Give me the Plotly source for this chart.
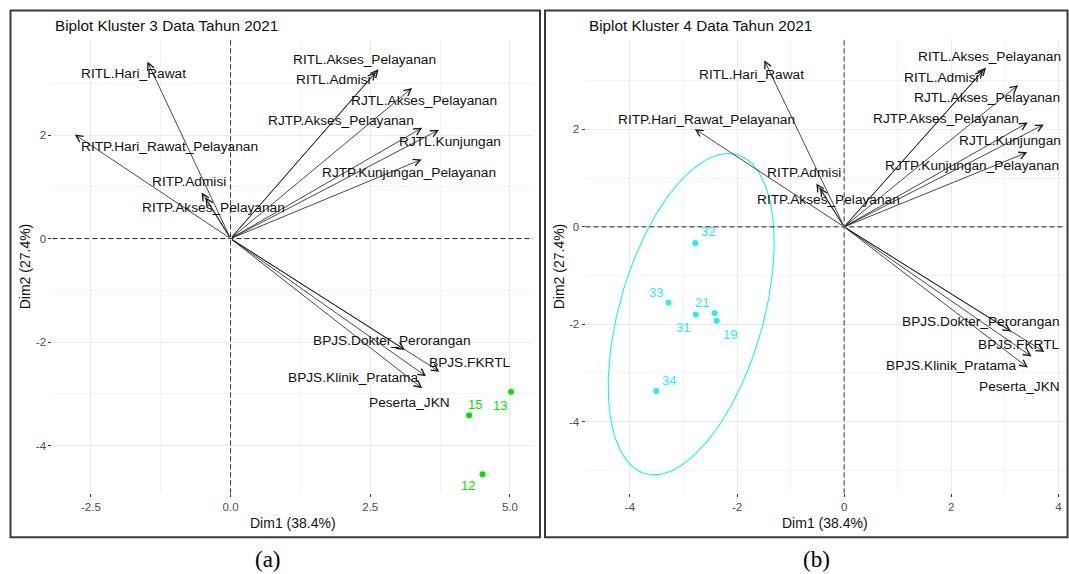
import numpy as np
import plotly.graph_objects as go

W, H = 1069, 574

# ---------------- data ----------------
VARIABLES = ["RITL.Hari_Rawat", "RITP.Hari_Rawat_Pelayanan", "RITP.Admisi",
             "RITP.Akses_Pelayanan", "RITL.Akses_Pelayanan", "RITL.Admisi",
             "RJTL.Akses_Pelayanan", "RJTP.Akses_Pelayanan", "RJTL.Kunjungan",
             "RJTP.Kunjungan_Pelayanan", "BPJS.Dokter_Perorangan", "BPJS.FKRTL",
             "BPJS.Klinik_Pratama", "Peserta_JKN"]
VAR_DIM1 = [-1.49, -2.79, -0.52, -0.45, 2.65, 2.60, 3.25, 3.43, 3.73, 3.42, 3.12, 3.74, 3.50, 3.43]
VAR_DIM2 = [3.42, 2.01, 0.89, 0.80, 3.27, 3.22, 2.91, 2.14, 2.10, 1.53, -2.15, -2.57, -2.66, -2.89]

K3_IDS = ["12", "13", "15"]
K3_DIM1 = [4.51, 5.02, 4.27]
K3_DIM2 = [-4.55, -2.96, -3.41]

K4_IDS = ["19", "21", "31", "32", "33", "34"]
K4_DIM1 = [-2.38, -2.42, -2.77, -2.78, -3.28, -3.51]
K4_DIM2 = [-1.93, -1.77, -1.80, -0.33, -1.56, -3.37]

TITLE_A = "Biplot Kluster 3 Data Tahun 2021"
TITLE_B = "Biplot Kluster 4 Data Tahun 2021"
XLABEL = "Dim1 (38.4%)"
YLABEL = "Dim2 (27.4%)"
XTICKS_A = [-2.5, 0.0, 2.5, 5.0]
XTICKTEXT_A = ["-2.5", "0.0", "2.5", "5.0"]
XTICKS_B = [-4, -2, 0, 2, 4]
XTICKTEXT_B = ["-4", "-2", "0", "2", "4"]
YTICKS = [-4, -2, 0, 2]
YTICKTEXT = ["-4", "-2", "0", "2"]
CAPTIONS = ["(a)", "(b)"]

# 95% normal-theory ellipse: sqrt(2 * qf(0.95, 2, n-1)) with n = 6
F_QUANTILE = 5.786135

# ---------------- style / layout (label offsets in px: dx right, dy down) ----------------
LBL_OFF_A = [(-13.6, 11.8), (95.2, 12.3), (-12.3, -10.6), (8.5, 10.3), (-13.9, -10.2),
             (-42.5, 7.1), (11.9, 12.1), (-81.3, -7.7), (11.5, 12), (-12.2, 13.1),
             (-12.7, -9.5), (30.7, -8.9), (-73.6, 0.9), (-12.7, 14)]
LBL_OFF_B = [(-13.3, 13.9), (11.8, -9.8), (-12.7, -10.7), (8.3, 11.3), (3, -10.8),
             (-41.6, 7.8), (-31, 12.7), (-81.8, -4.2), (-34.3, 15.6), (-54.8, 12.8),
             (-30.3, -9.7), (-25.5, -7.6), (-80.7, 9.5), (-8.1, 18.6)]
PT_OFF_A = [(-14.6, 11.5), (-11, 13.7), (5.6, -10.6)]
PT_OFF_B = [(12.8, 13.3), (-12.7, -10.2), (-12.5, 12.9), (12.6, -11.1), (-12.2, -10.4), (12.6, -10.8)]

GREEN = "#00E400"
CYAN = "#1FF0F0"
ARROW_COLOR = "#1a1a1a"
TEXT_COLOR = "#111111"
FONT = "Liberation Sans, Arial, sans-serif"

PLOT_TOP, PLOT_BOTTOM = 39.3, 493.3
A_LEFT, A_RIGHT = 52.4, 532.8
B_LEFT, B_RIGHT = 585.5, 1065.3


def px(x):
    return x / W


def py(y):
    return 1 - y / H


fig = go.Figure()
annotations = []
shapes = []

ydom = [py(PLOT_BOTTOM), py(PLOT_TOP)]

axis_common = dict(
    showline=False, zeroline=False, showgrid=True, gridcolor="#EBEBEB", gridwidth=1,
    ticks="outside", ticklen=3, tickwidth=1, tickcolor="#333333",
    tickfont=dict(family=FONT, size=11.5, color="#4D4D4D"),
)

fig.update_layout(
    xaxis=dict(domain=[px(A_LEFT), px(A_RIGHT)], anchor="y", range=[-3.19, 5.41],
               tickvals=XTICKS_A, ticktext=XTICKTEXT_A,
               minor=dict(tickvals=[-1.25, 1.25, 3.75], showgrid=True, gridcolor="#F3F3F3", gridwidth=0.6, ticks=""),
               **axis_common),
    yaxis=dict(domain=ydom, anchor="x", range=[-4.92, 3.85],
               tickvals=YTICKS, ticktext=YTICKTEXT,
               minor=dict(tickvals=[-3, -1, 1, 3], showgrid=True, gridcolor="#F3F3F3", gridwidth=0.6, ticks=""),
               **axis_common),
    xaxis2=dict(domain=[px(B_LEFT), px(B_RIGHT)], anchor="y2", range=[-4.83, 4.13],
                tickvals=XTICKS_B, ticktext=XTICKTEXT_B,
                minor=dict(tickvals=[-3, -1, 1, 3], showgrid=True, gridcolor="#F3F3F3", gridwidth=0.6, ticks=""),
                **axis_common),
    yaxis2=dict(domain=ydom, anchor="x2", range=[-5.47, 3.85],
                tickvals=YTICKS, ticktext=YTICKTEXT,
                minor=dict(tickvals=[-5, -3, -1, 1, 3], showgrid=True, gridcolor="#F3F3F3", gridwidth=0.6, ticks=""),
                **axis_common),
)

panels = [
    dict(xr="x", yr="y", title=TITLE_A, lbl_off=LBL_OFF_A, ids=K3_IDS, d1=K3_DIM1, d2=K3_DIM2,
         pt_off=PT_OFF_A, color=GREEN, left=A_LEFT, right=A_RIGHT, ytitle_x=25, cap_x=268,
         border=(10.5, 10.5, 540, 537.3), ellipse=False),
    dict(xr="x2", yr="y2", title=TITLE_B, lbl_off=LBL_OFF_B, ids=K4_IDS, d1=K4_DIM1, d2=K4_DIM2,
         pt_off=PT_OFF_B, color=CYAN, left=B_LEFT, right=B_RIGHT, ytitle_x=559, cap_x=816,
         border=(545, 10.5, 1067.5, 537.3), ellipse=True),
]

for i, p in enumerate(panels):
    xr, yr = p["xr"], p["yr"]
    xd = xr + " domain"
    yd = yr + " domain"

    # dashed zero reference lines
    shapes.append(dict(type="line", xref=xd, yref=yr, x0=0, x1=1, y0=0, y1=0,
                       line=dict(color="#222222", width=1, dash="5px,3px")))
    shapes.append(dict(type="line", xref=xr, yref=yd, x0=0, x1=0, y0=0, y1=1,
                       line=dict(color="#333333", width=1, dash="5px,3px")))

    # panel frame
    bx0, by0, bx1, by1 = p["border"]
    shapes.append(dict(type="rect", xref="paper", yref="paper", x0=px(bx0), x1=px(bx1),
                       y0=py(by1), y1=py(by0), line=dict(color="#3a3a3a", width=2)))

    # individuals (points)
    if p["ellipse"]:
        pts = np.column_stack([p["d1"], p["d2"]])
        center = pts.mean(axis=0)
        cov = np.cov(pts.T)
        chol = np.linalg.cholesky(cov)
        t = np.linspace(0, 2 * np.pi, 200)
        circ = np.vstack([np.cos(t), np.sin(t)])
        radius = np.sqrt(2 * F_QUANTILE)
        ell = center[:, None] + radius * chol @ circ
        fig.add_trace(go.Scatter(x=ell[0], y=ell[1], mode="lines", xaxis=xr, yaxis=yr,
                                 line=dict(color=CYAN, width=1.1), hoverinfo="skip", showlegend=False))
    fig.add_trace(go.Scatter(x=p["d1"], y=p["d2"], mode="markers", xaxis=xr, yaxis=yr,
                             marker=dict(color=p["color"], size=6), showlegend=False))
    for pid, x, y, (dx, dy) in zip(p["ids"], p["d1"], p["d2"], p["pt_off"]):
        annotations.append(dict(x=x, y=y, xref=xr, yref=yr, text=pid, showarrow=False,
                                xshift=dx, yshift=-dy, xanchor="center", yanchor="middle",
                                font=dict(family=FONT, size=13, color=p["color"])))

    # variable arrows
    for name, x, y, (dx, dy) in zip(VARIABLES, VAR_DIM1, VAR_DIM2, p["lbl_off"]):
        annotations.append(dict(x=x, y=y, xref=xr, yref=yr, ax=0, ay=0, axref=xr, ayref=yr,
                                text="", showarrow=True, arrowhead=5, arrowsize=1.7,
                                arrowwidth=0.8, arrowcolor=ARROW_COLOR, standoff=0))
        annotations.append(dict(x=x, y=y, xref=xr, yref=yr, text=name, showarrow=False,
                                xshift=dx, yshift=-dy, xanchor="center", yanchor="middle",
                                font=dict(family=FONT, size=13.7, color=TEXT_COLOR)))

    # titles
    annotations.append(dict(x=px(p["left"] + 1), y=py(25.7), xref="paper", yref="paper",
                            text=p["title"], showarrow=False, xanchor="left", yanchor="middle",
                            font=dict(family=FONT, size=15.3, color="#111111")))
    annotations.append(dict(x=px((p["left"] + p["right"]) / 2), y=py(523.3), xref="paper", yref="paper",
                            text=XLABEL, showarrow=False, xanchor="center", yanchor="middle",
                            font=dict(family=FONT, size=14, color="#111111")))
    annotations.append(dict(x=px(p["ytitle_x"]), y=py((PLOT_TOP + PLOT_BOTTOM) / 2), xref="paper",
                            yref="paper", text=YLABEL, showarrow=False, textangle=-90,
                            xanchor="center", yanchor="middle",
                            font=dict(family=FONT, size=14, color="#111111")))
    annotations.append(dict(x=px(p["cap_x"]), y=py(559), xref="paper", yref="paper",
                            text=CAPTIONS[i], showarrow=False, xanchor="center", yanchor="middle",
                            font=dict(family="Liberation Serif, Times New Roman, serif", size=23, color="#000000")))

fig.update_layout(
    width=W, height=H, autosize=False,
    margin=dict(l=0, r=0, t=0, b=0),
    paper_bgcolor="white", plot_bgcolor="white",
    showlegend=False,
    annotations=annotations, shapes=shapes,
)

fig.write_html("out.html")
